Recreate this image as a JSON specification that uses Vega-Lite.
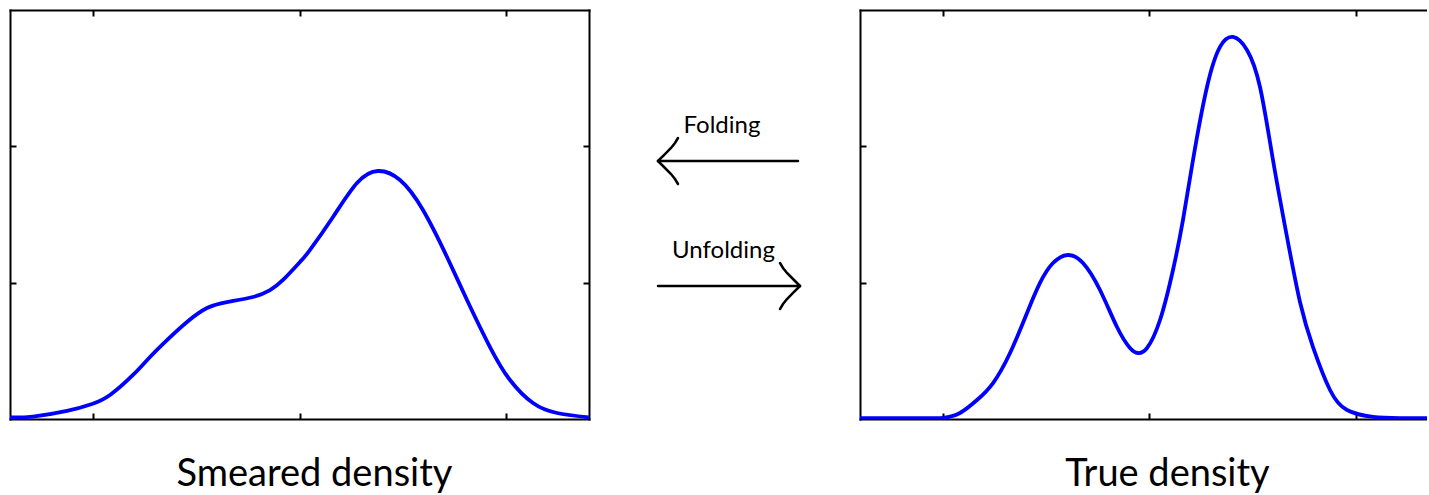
{
  "$schema": "https://vega.github.io/schema/vega-lite/v6.json",
  "padding": {"left": 9, "top": 9, "right": 0, "bottom": 0},
  "background": "white",
  "datasets": {
    "smeared": [
      {"x": -7.000, "y": 0.012},
      {"x": -6.444, "y": 0.018},
      {"x": -5.622, "y": 0.059},
      {"x": -5.017, "y": 0.110},
      {"x": -4.582, "y": 0.176},
      {"x": -4.026, "y": 0.323},
      {"x": -3.615, "y": 0.455},
      {"x": -3.204, "y": 0.579},
      {"x": -2.720, "y": 0.712},
      {"x": -2.237, "y": 0.814},
      {"x": -1.753, "y": 0.858},
      {"x": -1.124, "y": 0.895},
      {"x": -0.713, "y": 0.946},
      {"x": -0.399, "y": 1.020},
      {"x": 0.012, "y": 1.152},
      {"x": 0.254, "y": 1.240},
      {"x": 0.810, "y": 1.482},
      {"x": 1.390, "y": 1.731},
      {"x": 1.898, "y": 1.819},
      {"x": 2.430, "y": 1.753},
      {"x": 2.986, "y": 1.533},
      {"x": 3.567, "y": 1.188},
      {"x": 4.050, "y": 0.873},
      {"x": 4.606, "y": 0.528},
      {"x": 5.090, "y": 0.286},
      {"x": 5.646, "y": 0.117},
      {"x": 6.226, "y": 0.044},
      {"x": 7.000, "y": 0.012}
    ],
    "truth": [
      {"x": -7.000, "y": 0.007},
      {"x": -6.300, "y": 0.007},
      {"x": -5.600, "y": 0.007},
      {"x": -4.993, "y": 0.009},
      {"x": -4.582, "y": 0.044},
      {"x": -4.171, "y": 0.139},
      {"x": -3.783, "y": 0.264},
      {"x": -3.372, "y": 0.484},
      {"x": -2.961, "y": 0.778},
      {"x": -2.648, "y": 0.998},
      {"x": -2.333, "y": 1.144},
      {"x": -1.971, "y": 1.203},
      {"x": -1.608, "y": 1.144},
      {"x": -1.197, "y": 0.946},
      {"x": -0.786, "y": 0.675},
      {"x": -0.472, "y": 0.521},
      {"x": -0.278, "y": 0.484},
      {"x": -0.060, "y": 0.521},
      {"x": 0.254, "y": 0.726},
      {"x": 0.568, "y": 1.093},
      {"x": 0.810, "y": 1.460},
      {"x": 1.052, "y": 1.900},
      {"x": 1.390, "y": 2.435},
      {"x": 1.705, "y": 2.729},
      {"x": 2.019, "y": 2.802},
      {"x": 2.357, "y": 2.707},
      {"x": 2.672, "y": 2.435},
      {"x": 2.986, "y": 1.900},
      {"x": 3.325, "y": 1.335},
      {"x": 3.639, "y": 0.858},
      {"x": 3.954, "y": 0.528},
      {"x": 4.365, "y": 0.213},
      {"x": 4.776, "y": 0.066},
      {"x": 5.404, "y": 0.015},
      {"x": 6.057, "y": 0.007},
      {"x": 6.710, "y": 0.007}
    ],
    "arrows": [
      {"seg": "fold-shaft", "i": 0, "x": 0.2546, "y": 0.6308},
      {"seg": "fold-shaft", "i": 1, "x": 0.7712, "y": 0.6308},
      {"seg": "fold-up", "i": 0, "x": 0.2546, "y": 0.6308},
      {"seg": "fold-up", "i": 1, "x": 0.2804, "y": 0.6479},
      {"seg": "fold-up", "i": 2, "x": 0.3026, "y": 0.6626},
      {"seg": "fold-up", "i": 3, "x": 0.3173, "y": 0.6748},
      {"seg": "fold-up", "i": 4, "x": 0.3284, "y": 0.6870},
      {"seg": "fold-down", "i": 0, "x": 0.2546, "y": 0.6308},
      {"seg": "fold-down", "i": 1, "x": 0.2804, "y": 0.6137},
      {"seg": "fold-down", "i": 2, "x": 0.3026, "y": 0.5990},
      {"seg": "fold-down", "i": 3, "x": 0.3173, "y": 0.5868},
      {"seg": "fold-down", "i": 4, "x": 0.3284, "y": 0.5746},
      {"seg": "unfold-shaft", "i": 0, "x": 0.2546, "y": 0.3252},
      {"seg": "unfold-shaft", "i": 1, "x": 0.7786, "y": 0.3252},
      {"seg": "unfold-up", "i": 0, "x": 0.7786, "y": 0.3252},
      {"seg": "unfold-up", "i": 1, "x": 0.7528, "y": 0.3423},
      {"seg": "unfold-up", "i": 2, "x": 0.7306, "y": 0.3570},
      {"seg": "unfold-up", "i": 3, "x": 0.7159, "y": 0.3692},
      {"seg": "unfold-up", "i": 4, "x": 0.7048, "y": 0.3814},
      {"seg": "unfold-down", "i": 0, "x": 0.7786, "y": 0.3252},
      {"seg": "unfold-down", "i": 1, "x": 0.7528, "y": 0.3081},
      {"seg": "unfold-down", "i": 2, "x": 0.7306, "y": 0.2934},
      {"seg": "unfold-down", "i": 3, "x": 0.7159, "y": 0.2812},
      {"seg": "unfold-down", "i": 4, "x": 0.7048, "y": 0.2689}
    ],
    "labels": [
      {"x": 0.4908, "y": 0.6993, "label": "Folding"},
      {"x": 0.4963, "y": 0.3936, "label": "Unfolding"}
    ]
  },
  "config": {
    "view": {"stroke": null},
    "axis": {
      "labels": false,
      "grid": false,
      "domainColor": "#000000",
      "domainWidth": 2,
      "domainCap": "square",
      "tickColor": "#000000",
      "tickWidth": 2,
      "tickSize": -6,
      "title": null,
      "titleFont": "Lato",
      "titleFontSize": 38,
      "titleFontWeight": "normal",
      "titleColor": "#000000",
      "titleBaseline": "alphabetic",
      "titleAlign": "center",
      "titleY": 66
    }
  },
  "bounds": "flush",
  "spacing": 0,
  "hconcat": [
    {
      "width": 579,
      "height": 409,
      "data": {"name": "smeared"},
      "layer": [
        {
          "mark": {"type": "line", "strokeOpacity": 0},
          "encoding": {
            "x": {"field": "x", "type": "quantitative", "scale": {"domain": [-7, 7], "nice": false, "zero": false}, "axis": {"orient": "top", "values": [-5, 0, 5]}},
            "y": {"field": "y", "type": "quantitative", "scale": {"domain": [0, 3], "nice": false}, "axis": {"orient": "right", "values": [1, 2]}}
          }
        },
        {
          "mark": {"type": "line", "color": "#0000ff", "strokeWidth": 3.8, "interpolate": "natural", "clip": true},
          "encoding": {
            "x": {"field": "x", "type": "quantitative", "scale": {"domain": [-7, 7], "nice": false, "zero": false}, "axis": {"orient": "bottom", "values": [-5, 0, 5], "title": "Smeared density", "titleX": 304}},
            "y": {"field": "y", "type": "quantitative", "scale": {"domain": [0, 3], "nice": false}, "axis": {"orient": "left", "values": [1, 2]}}
          }
        }
      ],
      "resolve": {"axis": {"x": "independent", "y": "independent"}}
    },
    {
      "width": 271,
      "height": 409,
      "layer": [
        {
          "data": {"name": "arrows"},
          "mark": {"type": "line", "color": "#000000", "strokeWidth": 2.5, "strokeCap": "round"},
          "encoding": {
            "x": {"field": "x", "type": "quantitative", "scale": {"domain": [0, 1], "nice": false, "zero": false}, "axis": null},
            "y": {"field": "y", "type": "quantitative", "scale": {"domain": [0, 1], "nice": false, "zero": false}, "axis": null},
            "detail": {"field": "seg"},
            "order": {"field": "i"}
          }
        },
        {
          "data": {"name": "labels"},
          "mark": {"type": "text", "font": "Lato", "fontSize": 24, "color": "#000000", "baseline": "alphabetic", "align": "center"},
          "encoding": {
            "x": {"field": "x", "type": "quantitative", "scale": {"domain": [0, 1], "nice": false, "zero": false}, "axis": null},
            "y": {"field": "y", "type": "quantitative", "scale": {"domain": [0, 1], "nice": false, "zero": false}, "axis": null},
            "text": {"field": "label"}
          }
        }
      ]
    },
    {
      "width": 567,
      "height": 409,
      "data": {"name": "truth"},
      "layer": [
        {
          "mark": {"type": "line", "strokeOpacity": 0},
          "encoding": {
            "x": {"field": "x", "type": "quantitative", "scale": {"domain": [-7, 6.71], "nice": false, "zero": false}, "axis": {"orient": "top", "values": [-5, 0, 5]}}
          }
        },
        {
          "mark": {"type": "line", "color": "#0000ff", "strokeWidth": 3.8, "interpolate": "natural", "clip": true},
          "encoding": {
            "x": {"field": "x", "type": "quantitative", "scale": {"domain": [-7, 6.71], "nice": false, "zero": false}, "axis": {"orient": "bottom", "values": [-5, 0, 5], "title": "True density", "titleX": 307}},
            "y": {"field": "y", "type": "quantitative", "scale": {"domain": [0, 3], "nice": false}, "axis": {"orient": "left", "values": [1, 2]}}
          }
        }
      ],
      "resolve": {"axis": {"x": "independent"}}
    }
  ]
}
